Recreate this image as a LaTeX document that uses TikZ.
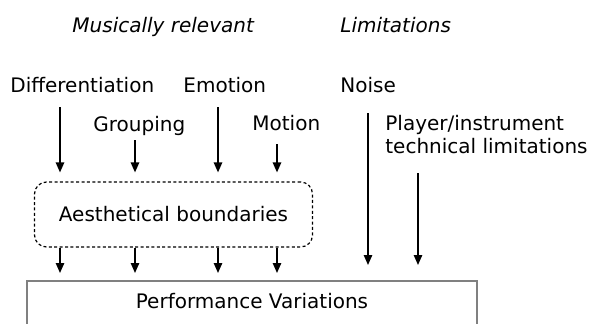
\documentclass[tikz,border=0pt]{standalone}
\usepackage{fontspec}
\setmainfont{DejaVu Sans}
\usetikzlibrary{arrows.meta,positioning}
\tikzset{
  lbl/.style={anchor=base west, inner sep=0pt, text depth=0pt,
    font=\fontsize{10}{11.5}\selectfont},
  head/.style={lbl, font=\fontsize{10}{12}\selectfont\itshape},
  flowarr/.style={-{Triangle[length=5pt,width=4.2pt]}, line width=0.75pt},
  aesbox/.style={draw, dash pattern=on 1.5pt off 1.2pt, rounded corners=6pt,
    line width=0.6pt, minimum width=139pt, minimum height=32.5pt,
    font=\fontsize{10}{12}\selectfont},
  perfbox/.style={draw=black!50, line width=1pt, inner sep=0pt,
    minimum width=225pt, text height=13.5pt, text depth=30pt,
    font=\fontsize{10}{12}\selectfont}
}
\begin{document}
\begin{tikzpicture}[x=0.5pt, y=-0.5pt]
  \useasboundingbox (0,0) rectangle (590,323);
  \clip (0,0) rectangle (590,323);
  % headings
  \node[head] (rel) at (72,32) {Musically relevant};
  \node[head] (lim) at (340,32) {Limitations};
  % sources
  \node[lbl] (diff) at (10,92) {Differentiation};
  \node[lbl] (emo) at (183,92) {Emotion};
  \node[lbl] (noise) at (340,92) {Noise};
  \node[lbl] (grp) at (93,131) {Grouping};
  \node[lbl] (mot) at (252,130) {Motion};
  \node[lbl, align=left] (player) at (385,153) {Player/instrument\\technical limitations};
  % boxes
  \node[aesbox] (aesth) at (173.5,214.5) {Aesthetical boundaries};
  \node[perfbox, anchor=north] (perf) at (252,280) {Performance Variations};
  % arrow columns
  \coordinate (c1) at (60,0);
  \coordinate (c2) at (135,0);
  \coordinate (c3) at (218,0);
  \coordinate (c4) at (277,0);
  \coordinate (c5) at (368,0);
  \coordinate (c6) at (418,0);
  \draw[flowarr, shorten <=7.5pt, shorten >=4.5pt] (diff.south -| c1) -- (aesth.north -| c1);
  \draw[flowarr, shorten <=4.5pt, shorten >=4.5pt] (grp.south -| c2) -- (aesth.north -| c2);
  \draw[flowarr, shorten <=7.5pt, shorten >=4.5pt] (emo.south -| c3) -- (aesth.north -| c3);
  \draw[flowarr, shorten <=7pt, shorten >=4.5pt] (mot.south -| c4) -- (aesth.north -| c4);
  \draw[flowarr, shorten <=10.5pt, shorten >=7.5pt] (noise.south -| c5) -- (perf.north -| c5);
  \draw[flowarr, shorten <=10pt, shorten >=7.5pt] (player.south -| c6) -- (perf.north -| c6);
  \foreach \c in {c1,c2,c3,c4}
    \draw[flowarr, shorten >=3.5pt] (aesth.south -| \c) -- (perf.north -| \c);
\end{tikzpicture}
\end{document}
